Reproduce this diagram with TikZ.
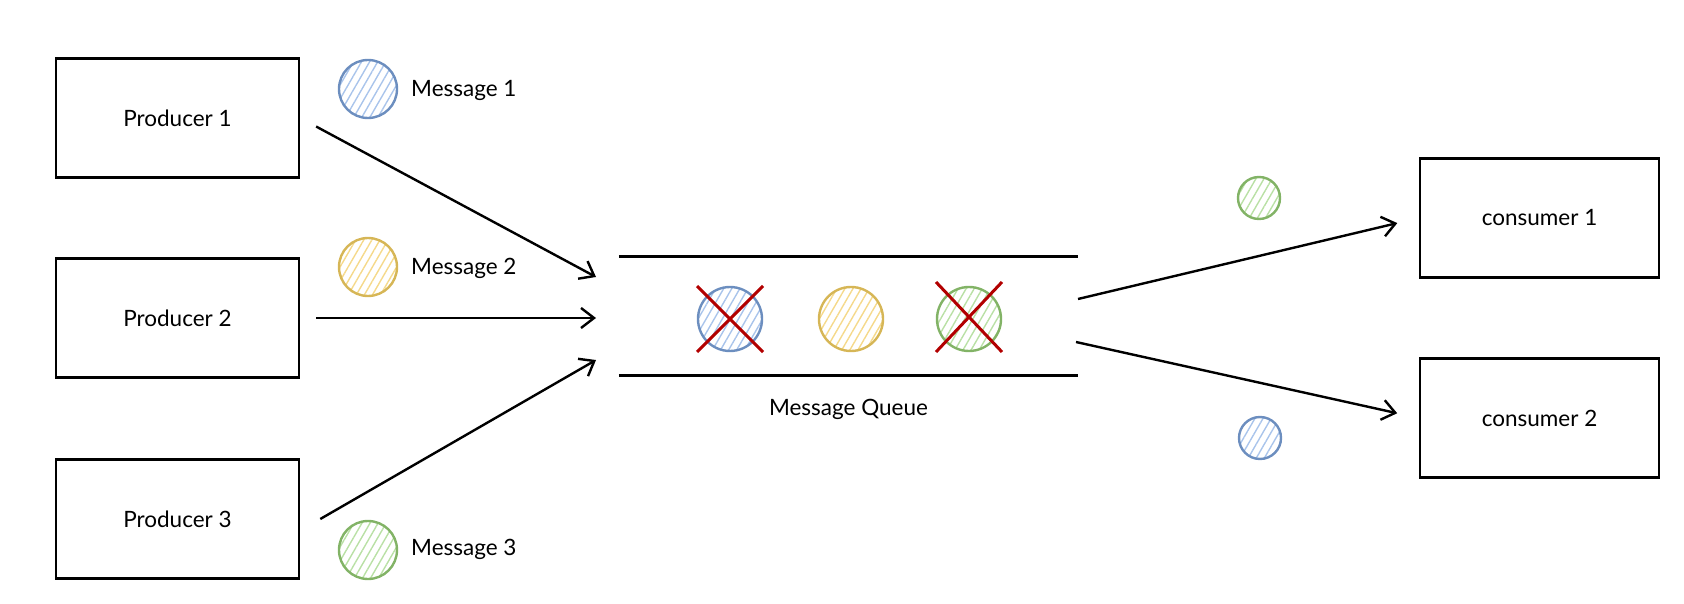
\documentclass[tikz,border=0pt]{standalone}
\usepackage{fontspec}
\setmainfont{Lato}
\usetikzlibrary{arrows.meta,patterns.meta}
\definecolor{bstroke}{HTML}{6C8EBF}
\definecolor{bhatch}{HTML}{A9C4EB}
\definecolor{ystroke}{HTML}{D6B656}
\definecolor{yhatch}{HTML}{F5D98A}
\definecolor{gstroke}{HTML}{82B366}
\definecolor{ghatch}{HTML}{B9E0A5}
\definecolor{xred}{HTML}{B20000}
\tikzset{
  txt/.style={font=\fontsize{22.5}{27}\selectfont},
  box/.style={draw=black, line width=2.6pt, minimum width=243pt, minimum height=119pt,
    txt, inner sep=0pt},
  lbl/.style={txt, anchor=west, inner sep=0pt},
  msg/.style={circle, minimum size=#1, inner sep=0pt, line width=2.4pt},
  msg/.default=58pt,
  blue msg/.style={draw=bstroke, pattern={Lines[angle=60,distance=7pt,line width=1.4pt]}, pattern color=bhatch},
  yellow msg/.style={draw=ystroke, pattern={Lines[angle=60,distance=7pt,line width=1.4pt]}, pattern color=yhatch},
  green msg/.style={draw=gstroke, pattern={Lines[angle=60,distance=7pt,line width=1.4pt]}, pattern color=ghatch},
  arr/.style={draw=black, line width=2.4pt, -{Straight Barb[length=13pt,width=20pt,line width=2.4pt]}},
  qline/.style={draw=black, line width=3pt},
  cross/.style={draw=xred, line width=3pt},
}
\begin{document}
\begin{tikzpicture}[x=1pt,y=-1pt]
\useasboundingbox (0,0) rectangle (1684,604);
% producers
\node[box] (p1) at (177.5,118) {Producer 1};
\node[box] (p2) at (177.5,318) {Producer 2};
\node[box] (p3) at (177.5,519) {Producer 3};
% consumers
\node[box, minimum width=239pt] (c1) at (1539.5,218) {consumer 1};
\node[box, minimum width=239pt] (c2) at (1539.5,418) {consumer 2};
% messages next to producers
\node[msg, blue msg] (m1) at (368,89) {};
\node[lbl] (m1l) at (411,90) {Message 1};
\node[msg, yellow msg] (m2) at (368,267) {};
\node[lbl] (m2l) at (411,268) {Message 2};
\node[msg, green msg] (m3) at (368,550) {};
\node[lbl] (m3l) at (411,549) {Message 3};
% queue
\node[minimum width=459pt, minimum height=118pt, inner sep=0pt] (q) at (848.5,316) {};
\draw[qline] (q.north west) -- (q.north east);
\draw[qline] (q.south west) -- (q.south east);
\node[txt, inner sep=0pt] (ql) at ([yshift=-34pt]q.south) {Message Queue};
\node[msg=64pt, blue msg] (q1) at (730,319) {};
\node[msg=64pt, yellow msg] (q2) at (851,319) {};
\node[msg=64pt, green msg] (q3) at (969,319) {};
\draw[cross] ([shift={(-33,-33)}]q1.center) -- ([shift={(33,33)}]q1.center);
\draw[cross] ([shift={(33,-33)}]q1.center) -- ([shift={(-33,33)}]q1.center);
\draw[cross] ([shift={(-33,-37)}]q3.center) -- ([shift={(33,33)}]q3.center);
\draw[cross] ([shift={(33,-37)}]q3.center) -- ([shift={(-33,33)}]q3.center);
% queue entry / exit points
\coordinate (qin1) at (596,277);
\coordinate (qin2) at (596,318);
\coordinate (qin3) at (596,360);
\coordinate (qout1) at (1078,299);
\coordinate (qout2) at (1076,342);
% small messages near consumers
\node[msg=42pt, green msg] (s1) at (1259,198) {};
\node[msg=42pt, blue msg] (s2) at (1260,438) {};
% connectors
\draw[arr, shorten <=18pt] (p1.east) -- (qin1);
\draw[arr, shorten <=16pt] (p2.east) -- (qin2);
\draw[arr] ([xshift=20pt]p3.east) -- (qin3);
\draw[arr, shorten >=22pt] (qout1) -- (c1.west);
\draw[arr, shorten >=22pt] (qout2) -- (c2.west);
\end{tikzpicture}
\end{document}
